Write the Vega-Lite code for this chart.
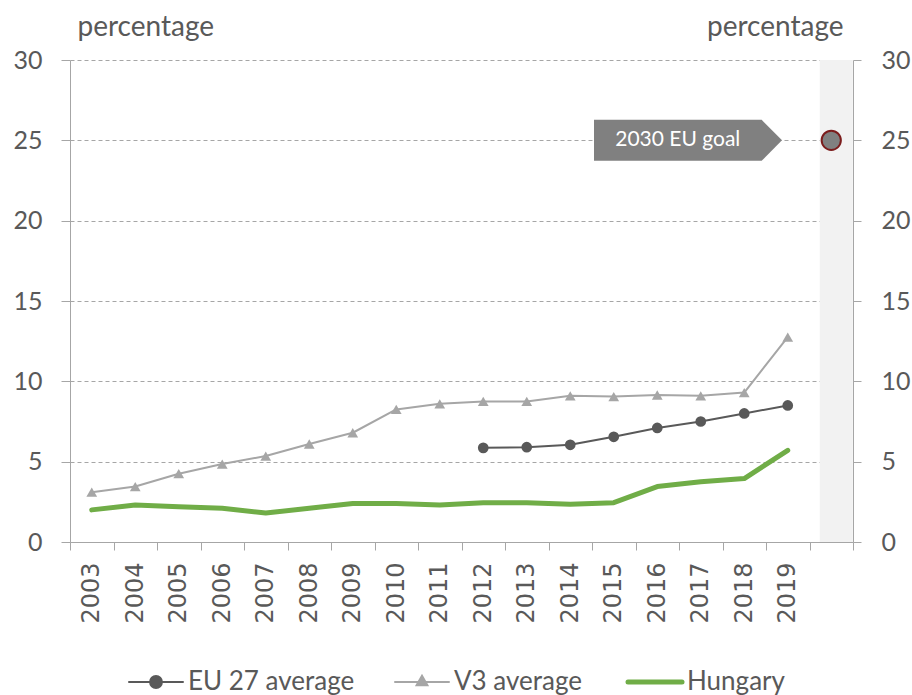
{
  "$schema": "https://vega.github.io/schema/vega-lite/v6.json",
  "width": 783,
  "height": 482,
  "autosize": "none",
  "padding": {"left": 70, "top": 60, "right": 59, "bottom": 153},
  "background": "white",
  "config": {"view": {"stroke": null}, "font": "Lato"},
  "datasets": {
    "series": [
      {"year": "2003", "series": "V3 average", "value": 3.1},
      {"year": "2004", "series": "V3 average", "value": 3.45},
      {"year": "2005", "series": "V3 average", "value": 4.25},
      {"year": "2006", "series": "V3 average", "value": 4.85},
      {"year": "2007", "series": "V3 average", "value": 5.35},
      {"year": "2008", "series": "V3 average", "value": 6.1},
      {"year": "2009", "series": "V3 average", "value": 6.8},
      {"year": "2010", "series": "V3 average", "value": 8.25},
      {"year": "2011", "series": "V3 average", "value": 8.6},
      {"year": "2012", "series": "V3 average", "value": 8.75},
      {"year": "2013", "series": "V3 average", "value": 8.75},
      {"year": "2014", "series": "V3 average", "value": 9.1},
      {"year": "2015", "series": "V3 average", "value": 9.05},
      {"year": "2016", "series": "V3 average", "value": 9.15},
      {"year": "2017", "series": "V3 average", "value": 9.1},
      {"year": "2018", "series": "V3 average", "value": 9.3},
      {"year": "2019", "series": "V3 average", "value": 12.75},
      {"year": "2012", "series": "EU 27 average", "value": 5.86},
      {"year": "2013", "series": "EU 27 average", "value": 5.9},
      {"year": "2014", "series": "EU 27 average", "value": 6.05},
      {"year": "2015", "series": "EU 27 average", "value": 6.55},
      {"year": "2016", "series": "EU 27 average", "value": 7.1},
      {"year": "2017", "series": "EU 27 average", "value": 7.5},
      {"year": "2018", "series": "EU 27 average", "value": 8.0},
      {"year": "2019", "series": "EU 27 average", "value": 8.5},
      {"year": "2003", "series": "Hungary", "value": 2.0},
      {"year": "2004", "series": "Hungary", "value": 2.3},
      {"year": "2005", "series": "Hungary", "value": 2.2},
      {"year": "2006", "series": "Hungary", "value": 2.1},
      {"year": "2007", "series": "Hungary", "value": 1.8},
      {"year": "2008", "series": "Hungary", "value": 2.1},
      {"year": "2009", "series": "Hungary", "value": 2.4},
      {"year": "2010", "series": "Hungary", "value": 2.4},
      {"year": "2011", "series": "Hungary", "value": 2.3},
      {"year": "2012", "series": "Hungary", "value": 2.45},
      {"year": "2013", "series": "Hungary", "value": 2.45},
      {"year": "2014", "series": "Hungary", "value": 2.35},
      {"year": "2015", "series": "Hungary", "value": 2.45},
      {"year": "2016", "series": "Hungary", "value": 3.45},
      {"year": "2017", "series": "Hungary", "value": 3.75},
      {"year": "2018", "series": "Hungary", "value": 3.95},
      {"year": "2019", "series": "Hungary", "value": 5.7}
    ],
    "goal": [{"year": "2030", "value": 25}],
    "label": [{"year": "2017", "value": 25, "text": "2030 EU goal"}],
    "band": [{"year": "2030", "lo": 0, "hi": 30}]
  },
  "layer": [
    {
      "data": {"name": "band"},
      "mark": {"type": "rect", "color": "#F2F2F2", "width": {"band": 0.76}, "xOffset": 5},
      "encoding": {
        "x": {
          "field": "year", "type": "nominal", "sort": null,
          "scale": {"type": "band", "paddingInner": 0, "paddingOuter": 0,
            "domain": ["2003","2004","2005","2006","2007","2008","2009","2010","2011","2012","2013","2014","2015","2016","2017","2018","2019","2030"]},
          "axis": {
            "title": null, "tickBand": "extent", "tickSize": 8, "tickColor": "#A6A6A6",
            "domainColor": "#A6A6A6", "labelAngle": -90, "labelFont": "DejaVu Sans",
            "labelFontSize": 24, "labelColor": "#595959", "labelPadding": 12,
            "labelExpr": "datum.value == '2030' ? '' : datum.label", "grid": false
          }
        },
        "y": {
          "field": "lo", "type": "quantitative",
          "scale": {"domain": [0, 30], "nice": false},
          "axis": {
            "orient": "left", "title": "percentage", "titleAngle": 0, "titleAlign": "left",
            "titleBaseline": "alphabetic", "titleX": 7, "titleY": -25, "titleFont": "Lato",
            "titleFontSize": 28, "titleFontWeight": "normal", "titleColor": "#595959",
            "values": [0, 5, 10, 15, 20, 25, 30], "labelFont": "Lato", "labelFontSize": 25,
            "labelColor": "#595959", "labelPadding": 19, "tickSize": 9, "tickColor": "#A6A6A6",
            "domainColor": "#A6A6A6", "grid": true, "gridColor": "#A6A6A6", "gridDash": [4, 3],
            "gridWidth": 1
          }
        },
        "y2": {"field": "hi"}
      }
    },
    {
      "data": {"name": "series"},
      "transform": [{"filter": "datum.series !== 'Hungary'"}],
      "mark": {"type": "line", "strokeWidth": 2, "strokeCap": "round", "strokeJoin": "round"},
      "encoding": {
        "x": {"field": "year", "type": "nominal", "sort": null},
        "y": {"field": "value", "type": "quantitative", "axis": null},
        "color": {
          "field": "series", "type": "nominal",
          "scale": {"domain": ["EU 27 average", "V3 average", "Hungary"], "range": ["#595959", "#A6A6A6", "#70AD47"]},
          "legend": {
            "title": null, "orient": "none", "legendX": 73, "legendY": 609, "direction": "horizontal",
            "labelFont": "Lato", "labelFontSize": 26, "labelColor": "#595959", "labelOffset": 19,
            "labelLimit": 400, "columnPadding": 36, "symbolSize": 2916, "symbolStrokeWidth": 2,
            "symbolType": "stroke",
            "encode": {
              "symbols": {
                "update": {
                  "shape": {"signal": "datum.value === 'Hungary' ? 'M-1,0L1,0' : (datum.value === 'EU 27 average' ? 'M-1,0L1,0M-0.22,0A0.22,0.22 0 1 1 0.22,0A0.22,0.22 0 1 1 -0.22,0Z' : 'M-1,0L1,0M-0.2,0.12L0,-0.23L0.2,0.12Z')"},
                  "strokeWidth": {"signal": "datum.value === 'Hungary' ? 5 : 2"},
                  "fill": {"signal": "datum.value === 'Hungary' ? 'transparent' : scale('color', datum.value)"},
                  "stroke": {"signal": "scale('color', datum.value)"},
                  "strokeCap": {"value": "round"},
                  "opacity": {"value": 1}
                }
              }
            }
          }
        }
      }
    },
    {
      "data": {"name": "series"},
      "transform": [{"filter": "datum.series === 'Hungary'"}],
      "mark": {"type": "line", "strokeWidth": 5, "strokeCap": "round", "strokeJoin": "round"},
      "encoding": {
        "x": {"field": "year", "type": "nominal", "sort": null},
        "y": {"field": "value", "type": "quantitative", "axis": null},
        "color": {"field": "series", "type": "nominal"}
      }
    },
    {
      "data": {"name": "series"},
      "transform": [{"filter": "datum.series !== 'Hungary'"}],
      "mark": {"type": "point", "filled": true, "size": 115, "opacity": 1},
      "encoding": {
        "x": {"field": "year", "type": "nominal", "sort": null},
        "y": {"field": "value", "type": "quantitative", "axis": null},
        "color": {"field": "series", "type": "nominal"},
        "shape": {
          "field": "series", "type": "nominal",
          "scale": {"domain": ["EU 27 average", "V3 average"], "range": ["circle", "triangle-up"]},
          "legend": null
        }
      }
    },
    {
      "data": {"name": "label"},
      "mark": {"type": "point", "filled": true, "opacity": 1, "color": "#808080", "size": 35344,
        "shape": "M-1,-0.218L0.784,-0.218L1,0L0.784,0.218L-1,0.218Z", "xOffset": -12.75},
      "encoding": {
        "x": {"field": "year", "type": "nominal", "sort": null},
        "y": {"field": "value", "type": "quantitative", "axis": null}
      }
    },
    {
      "data": {"name": "label"},
      "mark": {"type": "text", "color": "white", "font": "Lato", "fontSize": 21, "baseline": "middle", "align": "center", "xOffset": -23},
      "encoding": {
        "x": {"field": "year", "type": "nominal", "sort": null},
        "y": {"field": "value", "type": "quantitative", "axis": null},
        "text": {"field": "text"}
      }
    },
    {
      "data": {"name": "goal"},
      "mark": {"type": "point", "filled": true, "opacity": 1, "size": 370, "fill": "#808080", "stroke": "#7B1C1C", "strokeWidth": 2},
      "encoding": {
        "x": {"field": "year", "type": "nominal", "sort": null},
        "y": {
          "field": "value", "type": "quantitative",
          "axis": {
            "orient": "right", "title": "percentage", "titleAngle": 0, "titleAlign": "right",
            "titleBaseline": "alphabetic", "titleX": -10, "titleY": -25, "titleFont": "Lato",
            "titleFontSize": 28, "titleFontWeight": "normal", "titleColor": "#595959",
            "values": [0, 5, 10, 15, 20, 25, 30], "labelFont": "Lato", "labelFontSize": 25,
            "labelColor": "#595959", "labelPadding": 20, "tickSize": 8, "tickColor": "#A6A6A6",
            "domainColor": "#A6A6A6", "grid": false
          }
        }
      }
    }
  ],
  "resolve": {"axis": {"y": "independent"}}
}
